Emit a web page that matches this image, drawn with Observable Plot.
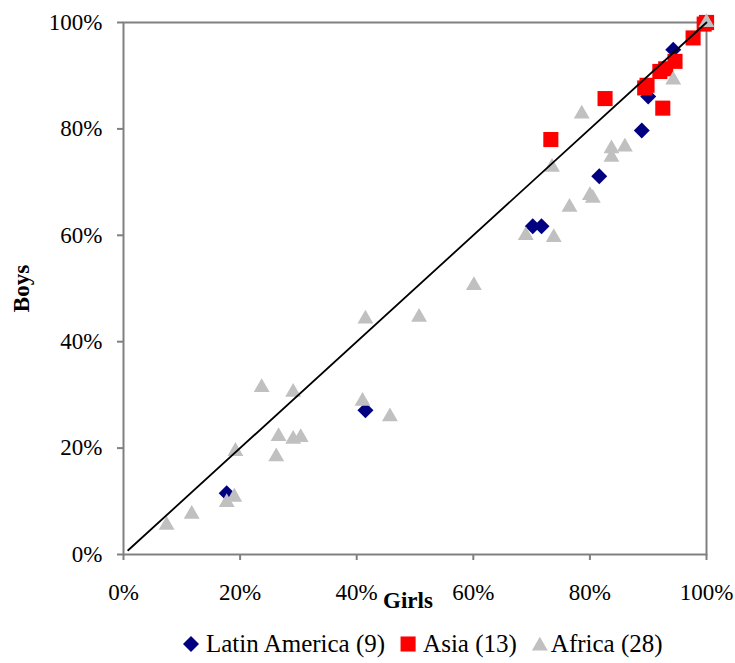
<!DOCTYPE html>
<html><head><meta charset="utf-8">
<script src="https://cdn.jsdelivr.net/npm/d3@7"></script>
<script src="https://cdn.jsdelivr.net/npm/@observablehq/plot@0.6"></script>
<style>
body{margin:0;background:#fff;}
#chart svg{display:block;}
[aria-label="x-axis label"] text,[aria-label="y-axis label"] text{font-weight:bold;}
</style></head><body><div id="chart"></div>
<script>
// Girls vs Boys (%)
const latinGirls = [94.3, 92.7, 90.0, 88.9, 81.6, 70.2, 71.7, 41.5, 17.7];
const latinBoys  = [94.9, 91.4, 86.1, 79.7, 71.1, 61.7, 61.7, 27.1, 11.5];
const asiaGirls = [100, 100, 99.6, 100, 97.7, 94.6, 92.0, 93.0, 89.4, 89.8, 82.6, 92.5, 73.3];
const asiaBoys  = [100, 100, 99.7, 100, 97.1, 92.7, 90.8, 91.3, 87.7, 88.2, 85.7, 83.9, 78.0];
const africaGirls = [100, 94.3, 78.6, 83.7, 86.0, 83.7, 80.0, 80.5, 76.5, 73.5, 69.0, 73.8, 60.1, 50.7,
                     41.5, 23.7, 29.1, 41.0, 45.7, 26.6, 29.1, 30.4, 26.2, 19.2, 17.7, 19.0, 11.7, 7.4];
const africaBoys  = [100, 89.2, 82.8, 76.3, 76.6, 74.7, 67.5, 67.0, 65.3, 72.8, 60.0, 59.6, 50.6, 44.6,
                     44.3, 31.4, 30.5, 28.8, 25.9, 22.2, 21.7, 22.0, 18.4, 19.4, 9.8, 10.8, 7.6, 5.5];
const diagGirls = [0.8, 100];
const diagBoys  = [0.8, 100];
const axisTicks = [0, 20, 40, 60, 80, 100];
const seriesNames = ["Latin America (9)", "Asia (13)", "Africa (28)"];
const seriesColors = ["#000080", "#ff0000", "#c0c0c0"];
const seriesSymbols = ["diamond2", "square", "triangle"];
const seriesR = [7.2, 8.5, 5.9];

const rows = (g, b) => g.map((v, i) => ({girls: v, boys: b[i]}));
const groups = [rows(latinGirls, latinBoys), rows(asiaGirls, asiaBoys), rows(africaGirls, africaBoys)];

const font = "'Liberation Serif','Times New Roman',serif";
const plot = Plot.plot({
  width: 735, height: 620,
  marginLeft: 123, marginRight: 29, marginTop: 22, marginBottom: 66,
  style: {fontFamily: font, fontSize: "23px", color: "#000", background: "#fff", overflow: "visible"},
  x: {domain: [0, 100]},
  y: {domain: [0, 100]},
  marks: [
    Plot.frame({stroke: "#808080", strokeWidth: 2}),
    Plot.axisX({ticks: axisTicks, tickFormat: d => d + "%", tickSize: 6, tickPadding: 23,
      stroke: "#808080", strokeWidth: 2, fontSize: 23, label: null}),
    Plot.axisY({ticks: axisTicks, tickFormat: d => d + "%", tickSize: 6, tickPadding: 15,
      stroke: "#808080", strokeWidth: 2, fontSize: 23,
      label: "Boys", labelAnchor: "center", labelOffset: 111, labelArrow: "none"}),
    Plot.text(["Girls"], {frameAnchor: "bottom", text: d => d, dx: -7, dy: 53, lineAnchor: "bottom",
      fontWeight: "bold", fontSize: 23}),
    ...groups.map((data, i) => Plot.dot(data, {x: "girls", y: "boys",
      symbol: seriesSymbols[i], fill: seriesColors[i], r: seriesR[i], stroke: null})),
    Plot.line(rows(diagGirls, diagBoys), {x: "girls", y: "boys", stroke: "#000", strokeWidth: 1.8})
  ]
});
document.getElementById("chart").appendChild(plot);

// Legend below the plot
const legend = d3.create("svg").attr("width", 735).attr("height", 43)
  .style("display", "block").style("font-family", font).style("font-size", "25px");
document.body.appendChild(legend.node());
let x = 183;
seriesNames.forEach((name, i) => {
  const sym = {diamond2: d3.symbolDiamond2, square: d3.symbolSquare, triangle: d3.symbolTriangle}[seriesSymbols[i]];
  legend.append("path")
    .attr("d", d3.symbol(sym, Math.PI * seriesR[i] * seriesR[i])())
    .attr("transform", `translate(${x + 8},${i === 2 ? 26 : 24})`)
    .attr("fill", seriesColors[i]);
  const tx = x + (i === 2 ? 19 : 23);
  const t = legend.append("text").attr("x", tx).attr("y", 32).text(name);
  x = tx + t.node().getComputedTextLength() + 15;
});
</script></body></html>
